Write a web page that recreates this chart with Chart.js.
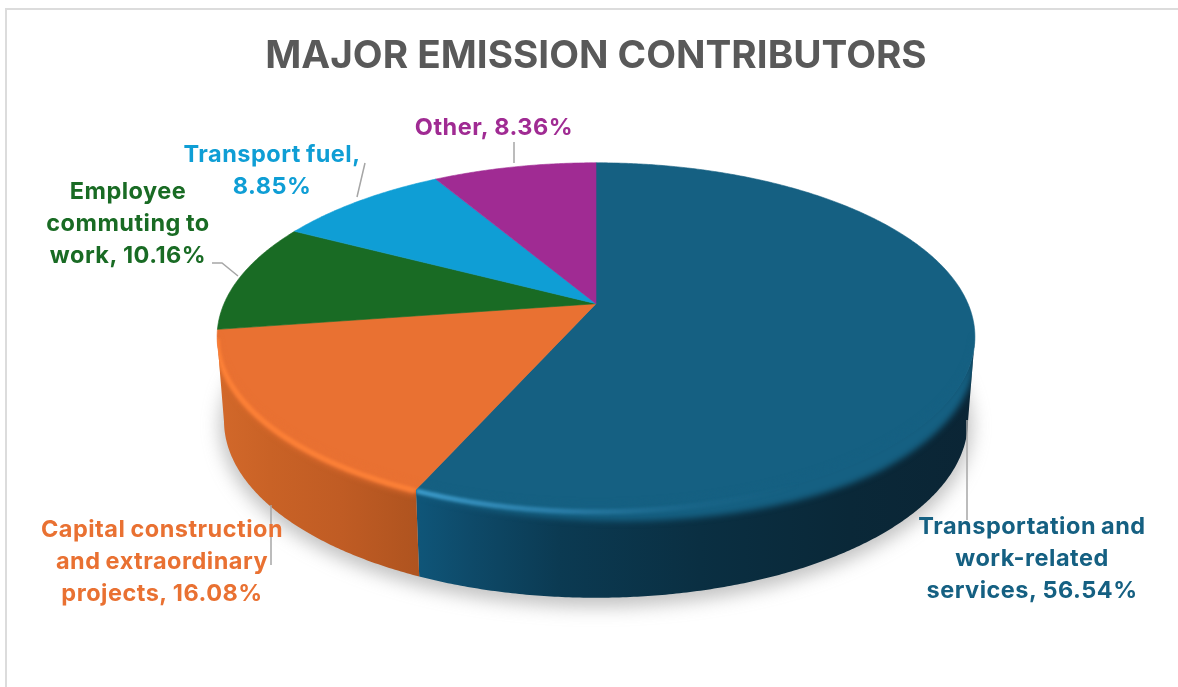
<!DOCTYPE html>
<html>
<head>
<meta charset="utf-8">
<title>Major emission contributors</title>
<script src="https://cdn.jsdelivr.net/npm/chart.js@4"></script>
<style>
  html, body { margin: 0; padding: 0; background: #fff; overflow: hidden; }
  #frame { position: absolute; left: 5px; top: 8px; width: 1200px; height: 720px; border: 2px solid #dcdcdc; }
  #grafico { position: absolute; left: 0; top: 0; }
</style>
</head>
<body>
<div id="frame"></div>
<canvas id="grafico" width="1178" height="687"></canvas>
<script>
// Dados
const categories = [
  "Transportation and work-related services",
  "Capital construction and extraordinary projects",
  "Employee commuting to work",
  "Transport fuel",
  "Other"
];
const values = [56.54, 16.08, 10.16, 8.85, 8.36];
const sliceColors = ["#156082", "#E97132", "#196B24", "#0F9ED5", "#A02B93"];
const labelLines = [
  ["Transportation and", "work-related", "services, {v}%"],
  ["Capital construction", "and extraordinary", "projects, {v}%"],
  ["Employee", "commuting to", "work, {v}%"],
  ["Transport fuel,", "{v}%"],
  ["Other, {v}%"]
];

// Posição dos rótulos e linhas de chamada
const labelCenters = [[1032, 534], [162, 537], [128, 199], [272, 162], [494, 135]];
const leaderLines = [
  [[967, 420], [967, 520]],
  [[271, 505], [271, 565]],
  [[212, 263], [222, 263], [238, 276]],
  [[365, 163], [357, 197]],
  [[514, 142], [514, 163]]
];
const LABEL_FONT = "700 23.5px Inter";
const LINE_HEIGHT = 32;

// Perspectiva do disco
const TILT = 0.19;
const SQUASH = 167.7;
const FLOOR_DROP = 84;
const FLOOR_RX = 372;
const FLOOR_RY = 177;

const wallStops = [
  [[420, "#0f5578"], [470, "#0e4a69"], [560, "#0b3a52"], [700, "#0a2f42"], [850, "#0a2838"], [975, "#0b2535"]],
  [[220, "#d2682a"], [270, "#c96226"], [340, "#c05c24"], [422, "#ae531f"]]
];
const rimGlow = [
  [[420, "rgba(70,170,220,0.8)"], [560, "rgba(60,150,200,0.55)"], [700, "rgba(40,120,160,0.2)"], [800, "rgba(40,120,160,0)"]],
  [[220, "rgba(255,130,55,0.9)"], [422, "rgba(255,130,55,0.9)"]]
];

function project(arc, angle) {
  const w = 1 - TILT * Math.sin(angle);
  return {
    x: arc.x + arc.outerRadius * Math.cos(angle) / w,
    y: arc.y + SQUASH * Math.sin(angle) / w
  };
}

// Elipse do topo (imagem do círculo pela perspectiva)
function topEllipse(arc) {
  return {
    cx: arc.x,
    cy: arc.y + SQUASH * TILT / (1 - TILT * TILT),
    rx: arc.outerRadius / Math.sqrt(1 - TILT * TILT),
    ry: SQUASH / (1 - TILT * TILT)
  };
}

function rimPoints(arc) {
  const pts = [];
  const steps = Math.ceil((arc.endAngle - arc.startAngle) / 0.008);
  for (let i = 0; i <= steps; i++) {
    pts.push(project(arc, arc.startAngle + (arc.endAngle - arc.startAngle) * i / steps));
  }
  return pts;
}

// Só a parte da borda voltada para a frente tem parede
function frontPoints(arc) {
  const e = topEllipse(arc);
  return rimPoints(arc)
    .map((p) => {
      const phi = Math.atan2((p.y - e.cy) / e.ry, (p.x - e.cx) / e.rx);
      return {
        x: p.x, y: p.y,
        bx: e.cx + FLOOR_RX * Math.cos(phi),
        by: e.cy + FLOOR_DROP + FLOOR_RY * Math.sin(phi),
        front: Math.sin(phi) >= 0
      };
    })
    .filter((p) => p.front);
}

function sectorPath(arc, path) {
  const pts = rimPoints(arc);
  path.moveTo(arc.x, arc.y);
  pts.forEach((p) => path.lineTo(p.x, p.y));
  path.closePath();
}

function wallPath(front, path) {
  front.forEach((p, i) => (i ? path.lineTo(p.x, p.y) : path.moveTo(p.x, p.y)));
  for (let i = front.length - 1; i >= 0; i--) path.lineTo(front[i].bx, front[i].by);
  path.closePath();
}

function hGradient(ctx, stops) {
  const x0 = stops[0][0];
  const x1 = stops[stops.length - 1][0];
  const g = ctx.createLinearGradient(x0, 0, x1, 0);
  stops.forEach((s) => g.addColorStop((s[0] - x0) / (x1 - x0), s[1]));
  return g;
}

function bandDepth(index, x) {
  if (index === 1) return 5;
  return 4 + 15 * Math.min(1, Math.max(0, (x - 420) / 460));
}

const pie3d = {
  id: "pie3d",
  beforeDatasetDraw(chart, args) {
    const ctx = chart.ctx;
    const arcs = args.meta.data;
    const e = topEllipse(arcs[0]);

    // sombra suave embaixo do disco
    ctx.save();
    ctx.filter = "blur(9px)";
    ctx.fillStyle = "rgba(120,120,120,0.45)";
    ctx.beginPath();
    ctx.ellipse(e.cx, e.cy + FLOOR_DROP + 5, FLOOR_RX + 4, FLOOR_RY + 4, 0, 0, Math.PI * 2);
    ctx.fill();
    ctx.restore();

    arcs.forEach((arc, i) => {
      const front = frontPoints(arc);
      if (front.length < 2) return;
      const wall = new Path2D();
      wallPath(front, wall);
      ctx.fillStyle = hGradient(ctx, wallStops[i]);
      ctx.fill(wall);
    });

    arcs.forEach((arc) => {
      const top = new Path2D();
      sectorPath(arc, top);
      ctx.fillStyle = arc.options.backgroundColor;
      ctx.strokeStyle = arc.options.backgroundColor;
      ctx.lineWidth = 0.6;
      ctx.fill(top);
      ctx.stroke(top);
    });

    // chanfro da borda frontal
    arcs.forEach((arc, i) => {
      const front = frontPoints(arc);
      if (front.length < 2) return;
      const region = new Path2D();
      wallPath(front, region);
      sectorPath(arc, region);
      ctx.save();
      ctx.clip(region);

      ctx.filter = "blur(3px)";
      ctx.fillStyle = arc.options.backgroundColor;
      ctx.beginPath();
      front.forEach((p, k) => (k ? ctx.lineTo(p.x, p.y - 6) : ctx.moveTo(p.x, p.y - 6)));
      for (let k = front.length - 1; k >= 0; k--) {
        ctx.lineTo(front[k].x, front[k].y + bandDepth(i, front[k].x));
      }
      ctx.closePath();
      ctx.fill();

      ctx.filter = "blur(1.5px)";
      ctx.strokeStyle = hGradient(ctx, rimGlow[i]);
      ctx.lineWidth = 5;
      ctx.beginPath();
      front.forEach((p, k) => (k ? ctx.lineTo(p.x, p.y + 1) : ctx.moveTo(p.x, p.y + 1)));
      ctx.stroke();
      ctx.restore();
    });

    return false; // o desenho padrão do arco fica de fora
  },
  afterDatasetsDraw(chart) {
    const ctx = chart.ctx;
    ctx.save();
    ctx.strokeStyle = "#a6a6a6";
    ctx.lineWidth = 1.5;
    leaderLines.forEach((line) => {
      ctx.beginPath();
      line.forEach((p, i) => (i ? ctx.lineTo(p[0], p[1]) : ctx.moveTo(p[0], p[1])));
      ctx.stroke();
    });

    ctx.font = LABEL_FONT;
    ctx.letterSpacing = "0.5px";
    ctx.wordSpacing = "-1px";
    ctx.textAlign = "center";
    ctx.textBaseline = "alphabetic";
    labelLines.forEach((lines, i) => {
      ctx.fillStyle = sliceColors[i];
      lines.forEach((text, k) => {
        ctx.fillText(text.replace("{v}", values[i].toFixed(2)), labelCenters[i][0], labelCenters[i][1] + k * LINE_HEIGHT);
      });
    });
    ctx.restore();
  }
};

const ctx = document.getElementById("grafico").getContext("2d");
new Chart(ctx, {
  type: "pie",
  data: {
    labels: categories,
    datasets: [{ data: values, backgroundColor: sliceColors, borderWidth: 0, radius: 372 }]
  },
  options: {
    responsive: false,
    animation: false,
    events: [],
    layout: { padding: { left: 14, bottom: 159 } },
    plugins: {
      legend: { display: false },
      tooltip: { enabled: false },
      title: {
        display: true,
        text: "MAJOR EMISSION CONTRIBUTORS",
        color: "#595959",
        font: { family: "Inter", size: 38.7, weight: "bold" },
        padding: { top: 33, bottom: 0 }
      }
    }
  },
  plugins: [pie3d]
});
</script>
</body>
</html>
